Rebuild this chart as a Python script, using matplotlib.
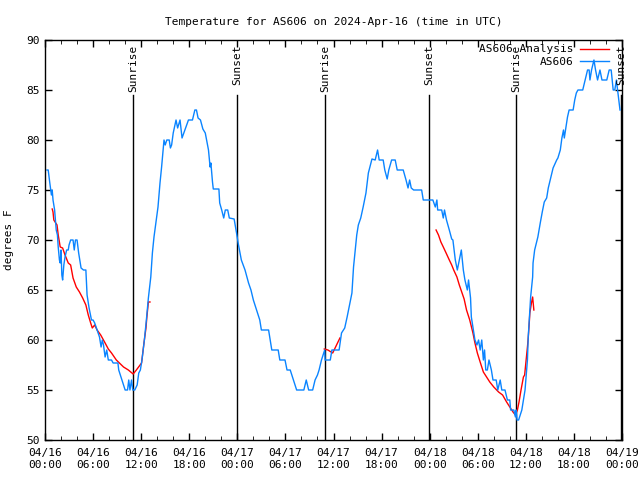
import matplotlib
matplotlib.use("Agg")
import matplotlib.pyplot as plt
import numpy as np

# station temperature (hours since 04/16 00:00 UTC, deg F)
obs_hours = [0.25, 0.4, 0.6, 0.8, 0.9, 1.0, 1.2, 1.4, 1.55, 1.65, 1.8, 1.9, 2.0, 2.1, 2.2,
             2.35, 2.5, 2.7, 2.9, 3.0, 3.2, 3.5, 3.65, 3.8, 4.0, 4.2, 4.5, 4.8, 5.1, 5.25,
             5.5, 5.8, 6.0, 6.2, 6.5, 6.8, 7.0, 7.15, 7.3, 7.5, 7.7, 7.9, 8.3, 8.5, 9.1,
             9.2, 9.6, 10.0, 10.3, 10.45, 10.6, 10.8, 10.95, 11.2, 11.5, 11.7, 11.9, 12.1, 12.4, 12.65,
             12.9, 13.2, 13.4, 13.6, 13.85, 14.1, 14.35, 14.55, 14.7, 14.85, 15.0, 15.2, 15.5, 15.65, 15.8,
             16.0, 16.35, 16.55, 16.85, 17.1, 17.5, 17.9, 18.4, 18.7, 18.9, 19.1, 19.4, 19.7, 20.0, 20.4,
             20.6, 20.7, 20.9, 21.0, 21.7, 21.8, 22.05, 22.3, 22.5, 22.8, 23.0, 23.6, 23.9, 24.1, 24.5,
             24.96, 25.4, 25.7, 26.0, 26.4, 26.8, 27.0, 27.9, 28.3, 29.1, 29.3, 29.95, 30.2, 30.6, 31.0,
             31.4, 32.3, 32.6, 32.9, 33.4, 33.7, 34.0, 34.2, 34.5, 34.9, 34.95, 35.6, 35.8, 36.7, 37.0,
             37.4, 37.7, 38.05, 38.3, 38.5, 38.9, 39.1, 39.4, 39.7, 40.05, 40.35, 40.8, 41.2, 41.5, 41.7,
             42.2, 42.4, 42.7, 42.9, 43.25, 43.7, 43.95, 44.7, 45.05, 45.3, 45.5, 45.7, 46.0, 47.0, 47.2,
             48.4, 48.7, 48.9, 49.0, 49.5, 49.7, 49.85, 50.1, 50.45, 50.75, 50.9, 51.2, 51.45, 51.7, 51.95,
             52.2, 52.4, 52.7, 52.85, 53.1, 53.2, 53.45, 53.65, 53.9, 54.1, 54.3, 54.5, 54.7, 54.85, 55.0,
             55.2, 55.4, 55.7, 55.9, 56.3, 56.5, 56.8, 57.0, 57.4, 57.7, 58.0, 58.1, 58.5, 58.7, 58.8,
             58.9, 59.1, 59.5, 59.7, 59.9, 60.0, 60.2, 60.3, 60.45, 60.6, 60.85, 60.9, 61.1, 61.5, 61.8,
             62.05, 62.3, 62.6, 62.8, 63.1, 63.4, 63.85, 64.0, 64.3, 64.5, 64.7, 64.8, 64.95, 65.2, 65.4,
             65.9, 66.1, 66.3, 66.5, 67.1, 67.4, 67.7, 67.9, 68.0, 68.2, 68.5, 68.7, 68.95, 69.25, 69.5,
             70.1, 70.4, 70.65, 70.9, 71.1, 71.3, 71.45, 71.6, 71.75]
obs_temp = [77, 77, 75.7, 74.5, 75, 74, 73, 71, 70.5, 69.3, 68, 67.7, 69, 66.5, 66,
            67.5, 68.3, 69, 69, 69.5, 70, 70, 69, 70, 70, 68.7, 67.2, 67, 67, 64.5,
            63.2, 62, 62, 61.7, 61, 60.3, 59.3, 60, 59.5, 58.3, 59, 58, 58, 57.7, 57.7,
            57, 56, 55, 55, 56, 55, 56, 55, 55, 55.5, 56.7, 57, 58, 60, 62,
            64.2, 66.3, 68.7, 70.3, 71.8, 73.3, 75.7, 77.3, 78.7, 80, 79.5, 80, 80, 79.2, 79.5,
            80.7, 82, 81.2, 82, 80.2, 81.1, 82, 82, 83, 83, 82.2, 82, 81.1, 80.7, 79,
            77.3, 77.7, 75.8, 75.1, 75.1, 73.7, 73, 72.2, 73, 73, 72.2, 72.1, 70.7, 69.7, 68,
            67, 65.7, 65, 64, 63, 62, 61, 61, 59, 59, 58, 58, 57, 57, 56,
            55, 55, 56, 55, 55, 56, 56.5, 57, 58, 59, 58, 58, 59, 59, 60.7,
            61.2, 62.3, 63.7, 64.7, 67.3, 70.5, 71.5, 72.2, 73.3, 74.7, 76.7, 78.1, 78, 79, 78,
            78, 77, 76.1, 77, 78, 78, 77, 77, 76, 75.2, 76, 75.2, 75, 75, 74,
            74, 73.3, 74, 73, 73, 72.2, 73, 72, 71, 70.1, 70, 68, 67, 68, 69,
            67, 66, 65, 66, 64.2, 62.3, 61, 60, 59.5, 60, 59, 60, 58, 59, 57,
            57, 58, 57, 56, 56, 55, 56, 55, 55, 54, 54, 53, 53, 52.3, 53,
            52, 52, 53, 54, 55, 56, 58, 60.3, 62.3, 64.3, 66.3, 67.7, 69, 70.3, 71.7,
            72.8, 73.8, 74.2, 75.2, 76.2, 77.2, 78, 78.2, 79, 80.2, 81, 80.2, 81, 82.3, 83,
            83, 84, 84.7, 85, 85, 86, 87, 87, 86, 87, 88, 87, 86, 87, 86,
            86, 87, 87, 85, 85, 86, 85, 84, 83]

# analysis series, three separate pieces (nan = gap)
ana_hours = [0.9, 1.0, 1.1, 1.5, 1.65, 1.9, 2.2, 2.5, 2.9, 3.2, 3.5, 3.9, 4.3, 4.7, 5.1,
             5.4, 5.7, 5.9, 6.2, 6.5, 6.95, 7.5, 7.9, 8.3, 8.9, 9.8, 10.4, 11.0, 11.4, 12.05,
             12.2, 12.35, 12.6, 12.7, 12.9, 13.1, np.nan,
             34.85, 35.3, 35.9, 36.2, 36.5, 36.8, np.nan,
             48.8, 49.1, 49.4, 49.7, 50.05, 50.45, 50.75, 51.0, 51.4, 51.7, 52.0, 52.3, 52.6, 53.0, 53.4,
             53.65, 53.95, 54.3, 54.7, 55.1, 55.5, 56.0, 56.6, 57.1, 57.6, 58.0, 58.4, 58.7, 58.95, 59.15,
             59.4, 59.7, 59.85, 60.0, 60.2, 60.3, 60.45, 60.5, 60.7, 60.85, 61.0]
ana_temp = [73.1, 72.8, 72, 71.5, 70.5, 69.3, 69.2, 68.5, 67.7, 67.5, 66.2, 65.3, 64.8, 64.2, 63.5,
            62.5, 61.7, 61.2, 61.5, 61, 60.5, 59.7, 59.1, 58.7, 58, 57.3, 57, 56.6, 57, 57.7,
            58.7, 59.7, 61.2, 62.2, 63.8, 63.8, np.nan,
            59.1, 59, 58.7, 59.2, 59.7, 60.2, np.nan,
            71, 70.5, 69.8, 69.3, 68.7, 68, 67.5, 67, 66.3, 65.5, 64.8, 64.1, 63, 62, 60.7,
            59.7, 58.7, 57.8, 56.8, 56.3, 55.8, 55.3, 54.8, 54.5, 53.8, 53.3, 52.8, 52.5, 53, 53.8,
            55, 56.3, 56.5, 57.7, 59.3, 60.2, 62, 62.7, 63.7, 64.3, 63]

event_hours = [11.0, 23.95, 34.95, 47.9, 58.8, 71.9]
event_names = ["Sunrise", "Sunset", "Sunrise", "Sunset", "Sunrise", "Sunset"]

tick_hours = list(range(0, 73, 6))
tick_labels = ["04/16\n00:00", "04/16\n06:00", "04/16\n12:00", "04/16\n18:00",
               "04/17\n00:00", "04/17\n06:00", "04/17\n12:00", "04/17\n18:00",
               "04/18\n00:00", "04/18\n06:00", "04/18\n12:00", "04/18\n18:00",
               "04/19\n00:00"]

plt.rcParams['font.family'] = 'DejaVu Sans Mono'
plt.rcParams['font.size'] = 8

fig = plt.figure(figsize=(6.4, 4.8), dpi=100)
ax = fig.add_axes([45/640, 40/480, 577/640, 400/480])

for h, name in zip(event_hours, event_names):
    ax.plot([h, h], [50, 84.5], color='black', lw=1)
    ax.text(h, 89.5, name, rotation=90, ha='center', va='top', fontsize=8)

ax.plot(ana_hours, ana_temp, color='#ff0000', lw=1, label='AS606 Analysis')
ax.plot(obs_hours, obs_temp, color='#0a84ff', lw=1, label='AS606')

ax.set_xlim(0, 72)
ax.set_ylim(50, 90)
ax.set_xticks(tick_hours)
ax.set_xticklabels(tick_labels)
ax.set_xticks(range(0, 73, 2), minor=True)
ax.set_yticks(range(50, 91, 5))
ax.tick_params(direction='in', top=True, right=True, length=5, width=1)
ax.tick_params(which='minor', direction='in', top=True, length=3)
ax.tick_params(axis='x', pad=6)
for s in ax.spines.values():
    s.set_linewidth(1)

ax.set_ylabel('degrees F', labelpad=9)
ax.set_title('Temperature for AS606 on 2024-Apr-16 (time in UTC)', fontsize=8, pad=11)
ax.legend(loc='upper right', frameon=False, markerfirst=False, handlelength=2.6,
          handletextpad=0.55, bbox_to_anchor=(613/640, 1 - 40/480),
          bbox_transform=fig.transFigure, borderaxespad=0, labelspacing=0.2, fontsize=8)

fig.savefig('out.png', dpi=100)
